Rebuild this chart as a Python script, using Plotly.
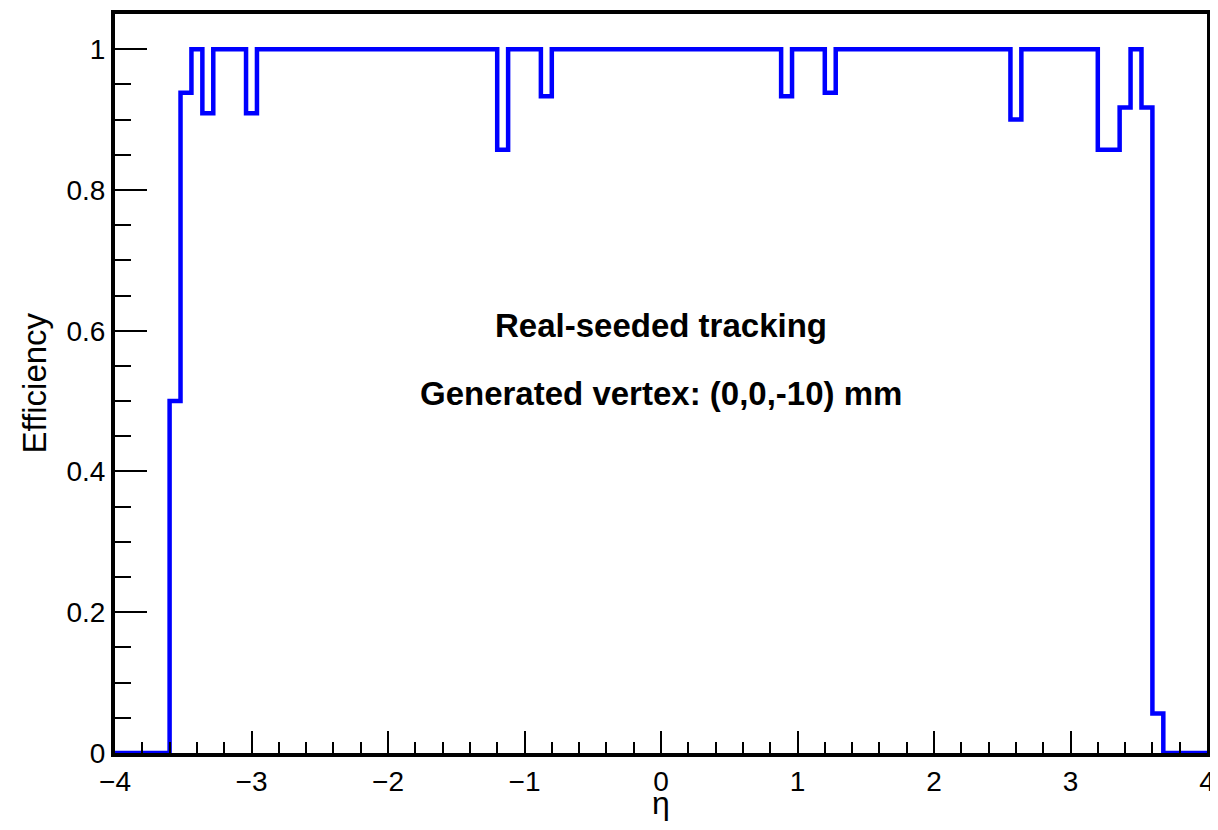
import plotly.graph_objects as go

# Histogram binning: 100 bins of width 0.08 over eta in [-4, 4]
eta_min = -4.0
eta_max = 4.0
n_bins = 100

# Efficiency per bin
efficiency = [
    0, 0, 0, 0, 0,                       # -4.00 .. -3.60
    0.5, 0.938, 1.0, 0.909, 1.0,         # -3.60 .. -3.20
    1.0, 1.0, 0.909, 1.0, 1.0,           # -3.20 .. -2.80
    1.0, 1.0, 1.0, 1.0, 1.0,             # -2.80 .. -2.40
    1.0, 1.0, 1.0, 1.0, 1.0,             # -2.40 .. -2.00
    1.0, 1.0, 1.0, 1.0, 1.0,             # -2.00 .. -1.60
    1.0, 1.0, 1.0, 1.0, 1.0,             # -1.60 .. -1.20
    0.857, 1.0, 1.0, 1.0, 0.933,         # -1.20 .. -0.80
    1.0, 1.0, 1.0, 1.0, 1.0,             # -0.80 .. -0.40
    1.0, 1.0, 1.0, 1.0, 1.0,             # -0.40 ..  0.00
    1.0, 1.0, 1.0, 1.0, 1.0,             #  0.00 ..  0.40
    1.0, 1.0, 1.0, 1.0, 1.0,             #  0.40 ..  0.80
    1.0, 0.933, 1.0, 1.0, 1.0,           #  0.80 ..  1.20
    0.938, 1.0, 1.0, 1.0, 1.0,           #  1.20 ..  1.60
    1.0, 1.0, 1.0, 1.0, 1.0,             #  1.60 ..  2.00
    1.0, 1.0, 1.0, 1.0, 1.0,             #  2.00 ..  2.40
    1.0, 1.0, 0.9, 1.0, 1.0,             #  2.40 ..  2.80
    1.0, 1.0, 1.0, 1.0, 1.0,             #  2.80 ..  3.20
    0.857, 0.857, 0.917, 1.0, 0.917,     #  3.20 ..  3.60
    0.056, 0, 0, 0, 0,                   #  3.60 ..  4.00
]

x_tick_vals = [-4, -3, -2, -1, 0, 1, 2, 3, 4]
x_tick_text = ["\u22124", "\u22123", "\u22122", "\u22121", "0", "1", "2", "3", "4"]
y_tick_vals = [0, 0.2, 0.4, 0.6, 0.8, 1.0]
y_tick_text = ["0", "0.2", "0.4", "0.6", "0.8", "1"]

label_lines = ["Real-seeded tracking", "Generated vertex: (0,0,-10) mm"]
label_y = [0.607, 0.511]

x_title = "\u03b7"
y_title = "Efficiency"

bin_width = (eta_max - eta_min) / n_bins
edges = [eta_min + i * bin_width for i in range(n_bins + 1)]
step_y = efficiency + [efficiency[-1]]

fig = go.Figure()
fig.add_trace(go.Scatter(
    x=edges, y=step_y, mode="lines",
    line=dict(shape="hv", color="#0000ff", width=4.5),
    showlegend=False, hoverinfo="skip",
))

font_family = "Liberation Sans, Arial, sans-serif"

for txt, yy in zip(label_lines, label_y):
    fig.add_annotation(
        x=0, y=yy, xref="x", yref="y", text="<b>%s</b>" % txt,
        showarrow=False, font=dict(family=font_family, size=33, color="black"),
        xanchor="center", yanchor="middle",
    )

# axis titles
fig.add_annotation(
    x=0.5, y=0, xref="paper", yref="paper", text=x_title,
    showarrow=False, font=dict(family=font_family, size=32, color="black"),
    xanchor="center", yanchor="middle", yshift=-50,
)
fig.add_annotation(
    x=0, y=0.5, xref="paper", yref="paper", text=y_title, textangle=-90,
    showarrow=False, font=dict(family=font_family, size=33, color="black"),
    xanchor="center", yanchor="middle", xshift=-81,
)

# The page body adds an 8px offset, so the figure is sized to fit the window.
fig.update_layout(
    width=1210, height=822,
    margin=dict(l=107, r=11, t=6, b=77),
    paper_bgcolor="white", plot_bgcolor="white",
    font=dict(family=font_family, color="black"),
    xaxis=dict(
        range=[eta_min, eta_max], automargin=False,
        tickmode="array", tickvals=x_tick_vals, ticktext=x_tick_text,
        ticks="inside", ticklen=22, tickwidth=2, tickcolor="black",
        minor=dict(dtick=0.2, tick0=0, ticks="inside", ticklen=11, tickwidth=2, tickcolor="black"),
        showgrid=False, zeroline=False,
        showline=True, linewidth=4, linecolor="black", mirror=True,
        tickfont=dict(size=28),
    ),
    yaxis=dict(
        range=[0, 1.05], automargin=False,
        tickmode="array", tickvals=y_tick_vals, ticktext=y_tick_text,
        ticks="inside", ticklen=32, tickwidth=2, tickcolor="black",
        minor=dict(dtick=0.05, tick0=0, ticks="inside", ticklen=16, tickwidth=2, tickcolor="black"),
        showgrid=False, zeroline=False,
        showline=True, linewidth=4, linecolor="black", mirror=True,
        tickfont=dict(size=28),
    ),
)

fig.write_html("out.html")
